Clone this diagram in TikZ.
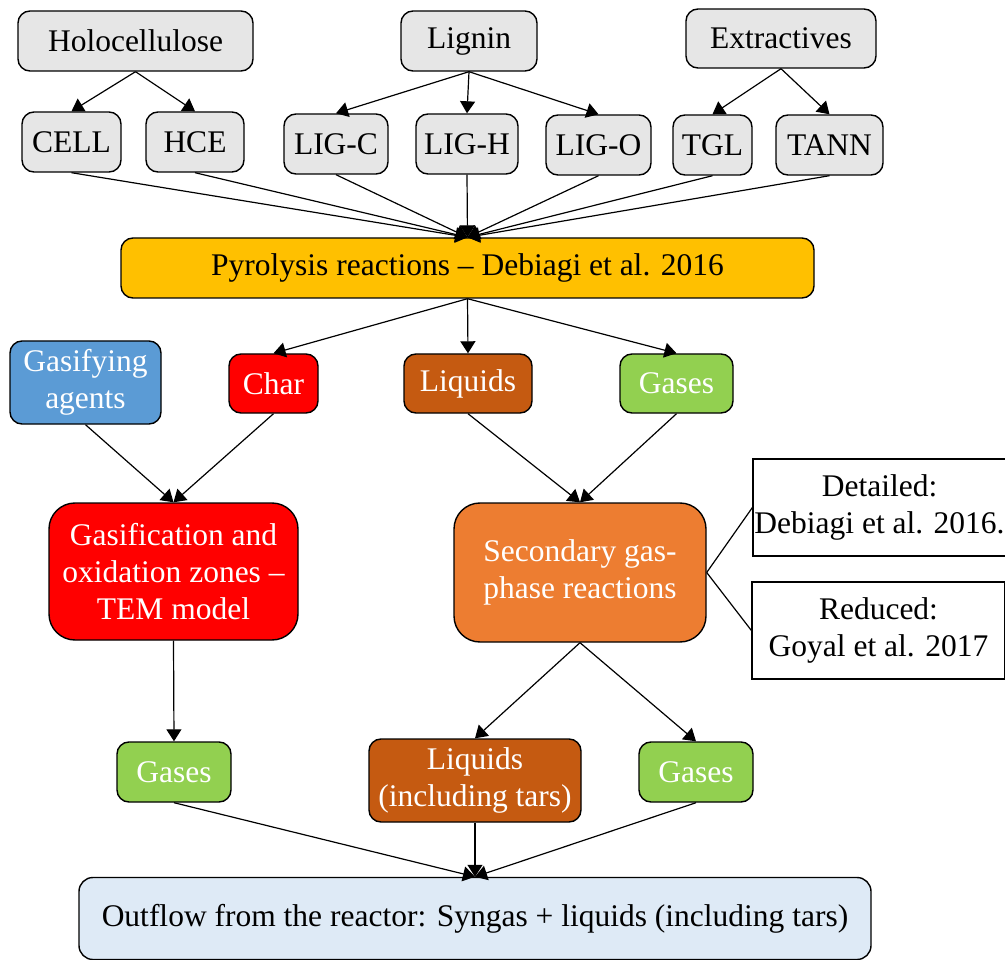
\documentclass[tikz,border=0pt]{standalone}
\usepackage{fontspec}
\setmainfont{Liberation Serif}
\usetikzlibrary{arrows.meta}
\definecolor{boxgray}{HTML}{E6E6E6}
\definecolor{pyroyellow}{HTML}{FFC000}
\definecolor{agentblue}{HTML}{5B9BD5}
\definecolor{charred}{HTML}{FF0000}
\definecolor{liqbrown}{HTML}{C55A11}
\definecolor{gasgreen}{HTML}{92D050}
\definecolor{secorange}{HTML}{ED7D31}
\definecolor{outblue}{HTML}{DEEAF6}
\tikzset{
  base/.style={draw=black, line width=1.4pt, inner sep=0pt, align=center,
    font=\fontsize{31.5}{37}\selectfont},
  gbox/.style={base, fill=boxgray, rounded corners=12pt},
  cbox/.style={base, rounded corners=12pt, text=white},
  bigbox/.style={base, rounded corners=26pt, text=white},
  refbox/.style={base, fill=white, line width=1.2pt},
  arr/.style={line width=1.2pt, -{Triangle[length=12pt,width=15pt]}},
  ln/.style={line width=1.2pt}
}
\begin{document}
\begin{tikzpicture}[x=1pt,y=-1pt]
\useasboundingbox (0,0) rectangle (1005,960);
% top row
\node[gbox, minimum width=235pt, minimum height=60pt] (holo) at (135.5,41) {Holocellulose};
\node[gbox, minimum width=136pt, minimum height=60pt] (lig) at (469,41) {Lignin};
\node[gbox, minimum width=190pt, minimum height=59pt] (ext) at (781,38.5) {Extractives};
% second row
\node[gbox, minimum width=99pt, minimum height=60pt] (cell) at (71.5,142) {CELL};
\node[gbox, minimum width=98pt, minimum height=60pt] (hce) at (195,142) {HCE};
\node[gbox, minimum width=104pt, minimum height=60pt] (ligc) at (336,144) {LIG-C};
\node[gbox, minimum width=102pt, minimum height=60pt] (ligh) at (467,144) {LIG-H};
\node[gbox, minimum width=105pt, minimum height=60pt] (ligo) at (598.5,145) {LIG-O};
\node[gbox, minimum width=79pt, minimum height=60pt] (tgl) at (712.5,145) {TGL};
\node[gbox, minimum width=107pt, minimum height=60pt] (tann) at (829.5,145) {TANN};
% pyrolysis
\node[base, fill=pyroyellow, rounded corners=12pt, minimum width=693pt, minimum height=60pt] (pyro) at (467.5,268) {Pyrolysis reactions -- Debiagi et al. 2016};
% products
\node[cbox, fill=agentblue, minimum width=151pt, minimum height=83pt] (agent) at (85.5,382.5) {Gasifying\\agents};
\node[cbox, fill=charred, minimum width=89pt, minimum height=59pt] (char) at (273.5,383.5) {Char};
\node[cbox, fill=liqbrown, minimum width=128pt, minimum height=59pt] (liq) at (468,383.5) {Liquids};
\node[cbox, fill=gasgreen, minimum width=113pt, minimum height=59pt] (gas) at (676.5,383.5) {Gases};
% reaction zones
\node[bigbox, fill=charred, minimum width=249pt, minimum height=137pt] (gasif) at (173.5,571.5) {Gasification and\\oxidation zones --\\TEM model};
\node[bigbox, fill=secorange, minimum width=252pt, minimum height=139pt] (sec) at (580,572.5) {Secondary gas-\\phase reactions};
\node[refbox, minimum width=253pt, minimum height=97pt] (det) at (879.5,507.5) {Detailed:\\Debiagi et al. 2016.};
\node[refbox, minimum width=253pt, minimum height=97pt] (red) at (878.5,630.5) {Reduced:\\Goyal et al. 2017};
% outputs
\node[cbox, fill=gasgreen, minimum width=114pt, minimum height=60pt] (gas2) at (174,772) {Gases};
\node[cbox, fill=liqbrown, minimum width=212pt, minimum height=83pt] (liq2) at (475,780.5) {Liquids\\(including tars)};
\node[cbox, fill=gasgreen, minimum width=114pt, minimum height=60pt] (gas3) at (696,772) {Gases};
\node[base, fill=outblue, rounded corners=14pt, minimum width=792pt, minimum height=82pt] (out) at (475,918.5) {Outflow from the reactor: Syngas + liquids (including tars)};
% edges
\draw[arr] (holo.south) -- (cell.north);
\draw[arr] (holo.south) -- (hce.north);
\draw[arr] (lig.south) -- (ligc.north);
\draw[arr] (lig.south) -- (ligh.north);
\draw[arr] (lig.south) -- (ligo.north);
\draw[arr] (ext.south) -- (tgl.north);
\draw[arr] (ext.south) -- (tann.north);
\foreach \n in {cell,hce,ligc,ligh,ligo,tgl,tann}
  \draw[arr] (\n.south) -- (pyro.north);
\draw[arr] (pyro.south) -- (char.north);
\draw[arr] (pyro.south) -- (liq.north);
\draw[arr] (pyro.south) -- (gas.north);
\draw[arr] (agent.south) -- (gasif.north);
\draw[arr] (char.south) -- (gasif.north);
\draw[arr] (liq.south) -- (sec.north);
\draw[arr] (gas.south) -- (sec.north);
\draw[ln] (sec.east) -- (det.west);
\draw[ln] (sec.east) -- (red.west);
\draw[arr] (gasif.south) -- (gas2.north);
\draw[arr] (sec.south) -- (liq2.north);
\draw[arr] (sec.south) -- (gas3.north);
\draw[arr] (gas2.south) -- (out.north);
\draw[arr] (liq2.south) -- (out.north);
\draw[arr] (gas3.south) -- (out.north);
\end{tikzpicture}
\end{document}
